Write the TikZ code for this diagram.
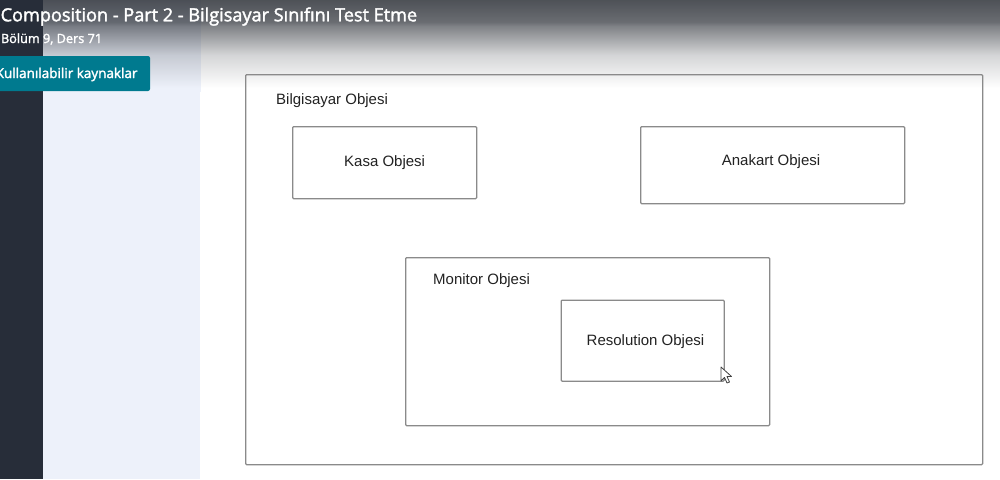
\documentclass[tikz,border=0pt]{standalone}
\usepackage{fontspec}
\setmainfont{Liberation Sans}
\newfontfamily\uifont[FakeBold=2]{Open Sans}
\definecolor{sidebar}{RGB}{39,45,57}
\definecolor{panel}{RGB}{237,241,250}
\definecolor{boxline}{RGB}{138,138,138}
\definecolor{txt}{RGB}{34,34,34}
\definecolor{teal}{RGB}{0,122,143}
\definecolor{shade}{RGB}{42,46,53}
\tikzset{
  objbox/.style={draw=boxline, line width=1.3pt, rounded corners=1pt, anchor=north west, inner sep=0pt},
  objtext/.style={font=\fontsize{15}{18}\selectfont, text=txt, inner sep=0pt},
  uitext/.style={text=white, anchor=base west, inner sep=0pt},
}
\begin{document}
\begin{tikzpicture}[x=1pt,y=-1pt]
\useasboundingbox (0,0) rectangle (1000,479);
\fill[white] (0,0) rectangle (1000,479);
\fill[panel] (43,0) rectangle (200,479);
% top gradient (drawn as strips)
\foreach \y in {0,...,91}{
  \pgfmathsetmacro{\a}{\y<22 ? 83-13*\y/22 : (\y<26 ? 70-10*(\y-22)/4 : (\y<55 ? 60-40*(\y-26)/29 : max(0,20-20*(\y-55)/33)))}
  \fill[shade!\a!white] (200,\y) rectangle (1000,\y+1.2);
  \fill[shade!\a!panel] (43,\y) rectangle (200.5,\y+1.2);
}
\fill[sidebar] (0,0) rectangle (43,479);
% diagram
\node[objbox, minimum width=737pt, minimum height=390pt] (bilg) at (245,74) {};
\node[objtext, anchor=base west] (bilgt) at (276,104) {Bilgisayar Objesi};
\node[objbox, minimum width=184pt, minimum height=72pt] (kasa) at (292,126) {};
\node[objtext] (kasat) at (kasa.center) {Kasa Objesi};
\node[objbox, minimum width=264pt, minimum height=77pt] (ana) at (640,126) {};
\node[objtext] (anat) at (771,161.5) {Anakart Objesi};
\node[objbox, minimum width=364pt, minimum height=168pt] (mon) at (405,257) {};
\node[objtext, anchor=base west] (mont) at (433,284.3) {Monitor Objesi};
\node[objbox, minimum width=163pt, minimum height=81pt] (res) at (560.5,299.5) {};
\node[objtext, anchor=base west] (rest) at (586.5,345.7) {Resolution Objesi};
% cursor
\filldraw[fill=white, draw=black!75, line width=0.8pt, line join=round]
  (721,367) -- (721,381) -- (724.5,377.5) -- (727,383) -- (729.5,382) -- (727,376.5) -- (731.5,376.5) -- cycle;
% button
\fill[teal, rounded corners=2pt] (-6,56) rectangle (150,91);
\node[uitext, font=\uifont\fontsize{13.5}{16}\selectfont] (btn) at (-4.5,78) {Kullanılabilir kaynaklar};
% titles
\node[uitext, font=\uifont\fontsize{18.1}{21}\selectfont] (title) at (0.5,21.3) {Composition - Part 2 - Bilgisayar Sınıfını Test Etme};
\node[uitext, font=\uifont\fontsize{12.7}{15}\selectfont] (sub) at (0.8,43) {Bölüm 9, Ders 71};
\end{tikzpicture}
\end{document}
